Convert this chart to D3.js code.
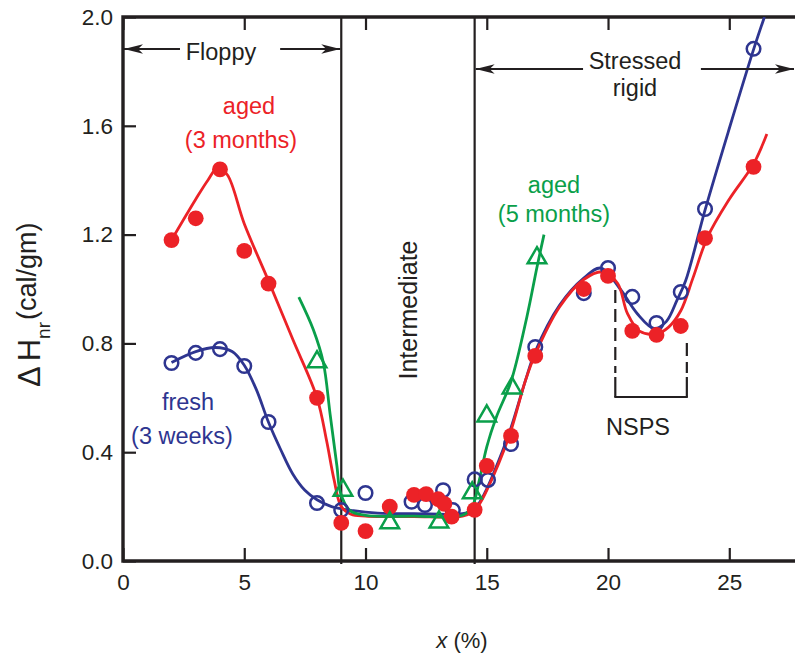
<!DOCTYPE html>
<html>
<head>
<meta charset="utf-8">
<script src="https://cdn.jsdelivr.net/npm/d3@7"></script>
<style>
  html, body { margin: 0; padding: 0; background: #fff; }
  svg { display: block; font-family: "Liberation Sans", Arial, Helvetica, sans-serif; }
</style>
</head>
<body>
<svg id="chart" width="795" height="658"></svg>
<script>
// ---------- data ----------
const xTicks = [0, 5, 10, 15, 20, 25];
const yTicks = [0.0, 0.4, 0.8, 1.2, 1.6, 2.0];

// aged (3 months) - filled red circles
const redX = [2, 3, 4, 5, 6, 8, 9, 10, 11, 12, 12.5, 13, 13.25, 13.55, 14.5, 15, 16, 17, 19, 20, 21, 22, 23, 24, 26];
const redY = [1.18, 1.26, 1.44, 1.14, 1.02, 0.60, 0.14, 0.11, 0.20, 0.243, 0.246, 0.227, 0.21, 0.163, 0.188, 0.35, 0.46, 0.754, 1.00, 1.048, 0.846, 0.831, 0.864, 1.187, 1.449];
// fresh (3 weeks) - open blue circles
const blueX = [2, 3, 4, 5, 6, 8, 9, 10, 11.9, 12.45, 13.2, 13.6, 14.5, 15.05, 16, 17, 19, 20, 21, 22, 23, 24, 26];
const blueY = [0.728, 0.765, 0.779, 0.717, 0.511, 0.213, 0.187, 0.25, 0.218, 0.206, 0.26, 0.187, 0.30, 0.298, 0.43, 0.787, 0.985, 1.077, 0.971, 0.875, 0.989, 1.294, 1.883];
// aged (5 months) - open green triangles
const greenX = [8, 9.07, 11, 13.03, 14.4, 15, 16.04, 17.07];
const greenY = [0.732, 0.26, 0.14, 0.143, 0.25, 0.533, 0.636, 1.114];

// fitted curves
const redFitX = [2.0, 3.0, 3.5, 3.9, 4.3, 5.0, 6.0, 7.0, 8.0, 8.4, 8.7, 9.0, 9.4, 10, 12, 14, 14.4, 14.7, 15.0, 15.5, 16.0, 16.6, 17.0, 18.0, 19.0, 19.8, 20.4, 20.8, 21.3, 22.0, 22.5, 23.0, 23.5, 24.1, 25.0, 26.0, 26.55];
const redFitY = [1.18, 1.33, 1.40, 1.445, 1.42, 1.24, 1.03, 0.815, 0.60, 0.44, 0.30, 0.20, 0.172, 0.165, 0.163, 0.165, 0.18, 0.21, 0.26, 0.36, 0.48, 0.665, 0.76, 0.934, 1.035, 1.063, 1.02, 0.91, 0.845, 0.835, 0.86, 0.92, 1.04, 1.19, 1.33, 1.46, 1.57];
const blueFitX = [2.0, 3.0, 3.8, 4.5, 5.0, 5.5, 6.0, 6.5, 7.0, 7.5, 8.0, 8.6, 9.5, 10.5, 12, 14, 14.4, 14.7, 15.0, 15.5, 16.0, 16.6, 17.0, 18.0, 19.0, 19.7, 20.5, 21.2, 21.9, 22.4, 22.85, 23.2, 24.0, 25.0, 26.0, 26.45];
const blueFitY = [0.73, 0.77, 0.785, 0.77, 0.72, 0.63, 0.51, 0.41, 0.32, 0.26, 0.225, 0.20, 0.185, 0.176, 0.174, 0.174, 0.185, 0.215, 0.265, 0.37, 0.49, 0.665, 0.77, 0.94, 1.04, 1.077, 1.0, 0.91, 0.855, 0.88, 0.96, 1.03, 1.29, 1.59, 1.88, 2.0];
const greenFitX = [7.25, 7.85, 8.26, 8.54, 8.82, 8.97, 9.36, 10, 12, 14, 14.4, 14.7, 15.0, 15.4, 16.0, 16.66, 17.07, 17.36];
const greenFitY = [0.97, 0.85, 0.73, 0.54, 0.35, 0.25, 0.185, 0.168, 0.165, 0.168, 0.20, 0.30, 0.42, 0.53, 0.66, 0.90, 1.08, 1.20];

// regime boundaries
const boundaries = [9.0, 14.5];
// NSPS window
const nspsRange = [20.3, 23.25];

// ---------- setup ----------
const RED = "#ec2227", BLUE = "#2e3590", GREEN = "#0a9f4a", INK = "#231f20";
const m = { left: 123, top: 17, bottom: 561, right: 795 };
const svg = d3.select("#chart");

const x = d3.scaleLinear().domain([0, 27.71]).range([m.left, m.right]);
const y = d3.scaleLinear().domain([0, 2.0]).range([m.bottom, m.top]);

svg.append("defs").append("clipPath").attr("id", "plot")
  .append("rect").attr("x", m.left).attr("y", m.top)
  .attr("width", m.right - m.left).attr("height", m.bottom - m.top);

// ---------- axes ----------
const gx = svg.append("g").attr("transform", `translate(0,${m.bottom})`)
  .call(d3.axisBottom(x).tickValues(xTicks).tickSize(-13).tickPadding(13).tickSizeOuter(0));
const gxt = svg.append("g").attr("transform", `translate(0,${m.top})`)
  .call(d3.axisTop(x).tickValues(xTicks).tickSize(-13).tickFormat("").tickSizeOuter(0));
const gy = svg.append("g").attr("transform", `translate(${m.left},0)`)
  .call(d3.axisLeft(y).tickValues(yTicks).tickSize(-13).tickPadding(10).tickFormat(d3.format(".1f")).tickSizeOuter(0));
[gx, gxt, gy].forEach(g => {
  g.select(".domain").remove();
  g.selectAll(".tick line").attr("stroke", INK).attr("stroke-width", 2.2);
  g.selectAll(".tick text").attr("fill", INK).style("font-size", "22.5px")
    .style("font-family", '"Liberation Sans", Arial, sans-serif');
});

// frame
svg.append("path")
  .attr("d", `M${m.right},${m.top}H${m.left}V${m.bottom}H${m.right}`)
  .attr("fill", "none").attr("stroke", INK).attr("stroke-width", 3.4);

// regime boundary lines
svg.selectAll(".bound").data(boundaries).enter().append("line")
  .attr("x1", d => x(d)).attr("x2", d => x(d))
  .attr("y1", m.top).attr("y2", m.bottom + 3)
  .attr("stroke", INK).attr("stroke-width", 2.2);

// ---------- curves ----------
const line = d3.line().x(d => x(d[0])).y(d => y(d[1])).curve(d3.curveCatmullRom.alpha(0.5));
const plot = svg.append("g").attr("clip-path", "url(#plot)");
const zip = (a, b) => a.map((v, i) => [v, b[i]]);

plot.append("path").datum(zip(blueFitX, blueFitY)).attr("d", line)
  .attr("fill", "none").attr("stroke", BLUE).attr("stroke-width", 2.8);
plot.append("path").datum(zip(redFitX, redFitY)).attr("d", line)
  .attr("fill", "none").attr("stroke", RED).attr("stroke-width", 2.8);
plot.append("path").datum(zip(greenFitX, greenFitY)).attr("d", line)
  .attr("fill", "none").attr("stroke", GREEN).attr("stroke-width", 2.8);

// ---------- markers ----------
plot.selectAll(".blue").data(zip(blueX, blueY)).enter().append("circle")
  .attr("cx", d => x(d[0])).attr("cy", d => y(d[1])).attr("r", 6.8)
  .attr("fill", "none").attr("stroke", BLUE).attr("stroke-width", 2.5);
plot.selectAll(".red").data(zip(redX, redY)).enter().append("circle")
  .attr("cx", d => x(d[0])).attr("cy", d => y(d[1])).attr("r", 7.9)
  .attr("fill", RED);
const tri = d3.symbol().type(d3.symbolTriangle).size(150);
plot.selectAll(".green").data(zip(greenX, greenY)).enter().append("path")
  .attr("transform", d => `translate(${x(d[0])},${y(d[1])})`).attr("d", tri)
  .attr("fill", "none").attr("stroke", GREEN).attr("stroke-width", 2.5);

// ---------- annotations ----------
function arrow(xFrom, xTo, yy) {
  svg.append("line").attr("x1", xFrom).attr("x2", xTo).attr("y1", yy).attr("y2", yy)
    .attr("stroke", INK).attr("stroke-width", 2.2);
  const s = Math.sign(xFrom - xTo);
  svg.append("path")
    .attr("d", `M${xTo},${yy}L${xTo + s * 19},${yy - 4.8}L${xTo + s * 14},${yy}L${xTo + s * 19},${yy + 4.8}Z`)
    .attr("fill", INK);
}
arrow(x(2.35), x(0) + 1, 49);
arrow(x(6.48), x(boundaries[0]) - 1, 49);
arrow(x(18.97), x(boundaries[1]) + 1, 69);
arrow(x(23.83), m.right - 1, 69);

function label(txt, cx, by, color, size) {
  svg.append("text").attr("x", cx).attr("y", by).attr("text-anchor", "middle")
    .attr("fill", color).style("font-size", (size || 23.5) + "px").text(txt);
}
label("Floppy", 221, 60, INK);
label("Stressed", 635, 69, INK);
label("rigid", 635, 96, INK);
label("aged", 249, 114, RED);
label("(3 months)", 241, 148, RED);
label("fresh", 188, 410, BLUE);
label("(3 weeks)", 182, 444, BLUE);
label("aged", 554, 193, GREEN);
label("(5 months)", 554, 222, GREEN);
label("NSPS", 638, 435, INK);

svg.append("text").attr("transform", `translate(417,310) rotate(-90)`)
  .attr("text-anchor", "middle").attr("fill", INK).style("font-size", "25px")
  .text("Intermediate");

// NSPS bracket
const nb = 397;
[[nspsRange[0], 290, 373], [nspsRange[1], 343, 373]].forEach(([xv, y0, y1]) => {
  svg.append("line").attr("x1", x(xv)).attr("x2", x(xv)).attr("y1", y0).attr("y2", y1)
    .attr("stroke", INK).attr("stroke-width", 2.2).attr("stroke-dasharray", "13,6");
  svg.append("line").attr("x1", x(xv)).attr("x2", x(xv)).attr("y1", y1 + 4).attr("y2", nb)
    .attr("stroke", INK).attr("stroke-width", 2.2);
});
svg.append("line").attr("x1", x(nspsRange[0]) - 1).attr("x2", x(nspsRange[1]) + 1)
  .attr("y1", nb).attr("y2", nb).attr("stroke", INK).attr("stroke-width", 2.2);

// axis titles
const yt = svg.append("text").attr("transform", "translate(40,387) rotate(-90)")
  .attr("text-anchor", "start").attr("fill", INK);
yt.append("tspan").style("font-size", "31px").text("Δ");
yt.append("tspan").attr("dx", 5).style("font-size", "31px").text("H");
yt.append("tspan").attr("dy", 10).style("font-size", "19px").text("nr");
yt.append("tspan").attr("dy", -14).attr("dx", 2).style("font-size", "27px").text("(cal/gm)");

const xt = svg.append("text").attr("x", 462).attr("y", 648).attr("text-anchor", "middle")
  .attr("fill", INK).style("font-size", "22px");
xt.append("tspan").style("font-style", "italic").text("x");
xt.append("tspan").text(" (%)");
</script>
</body>
</html>
